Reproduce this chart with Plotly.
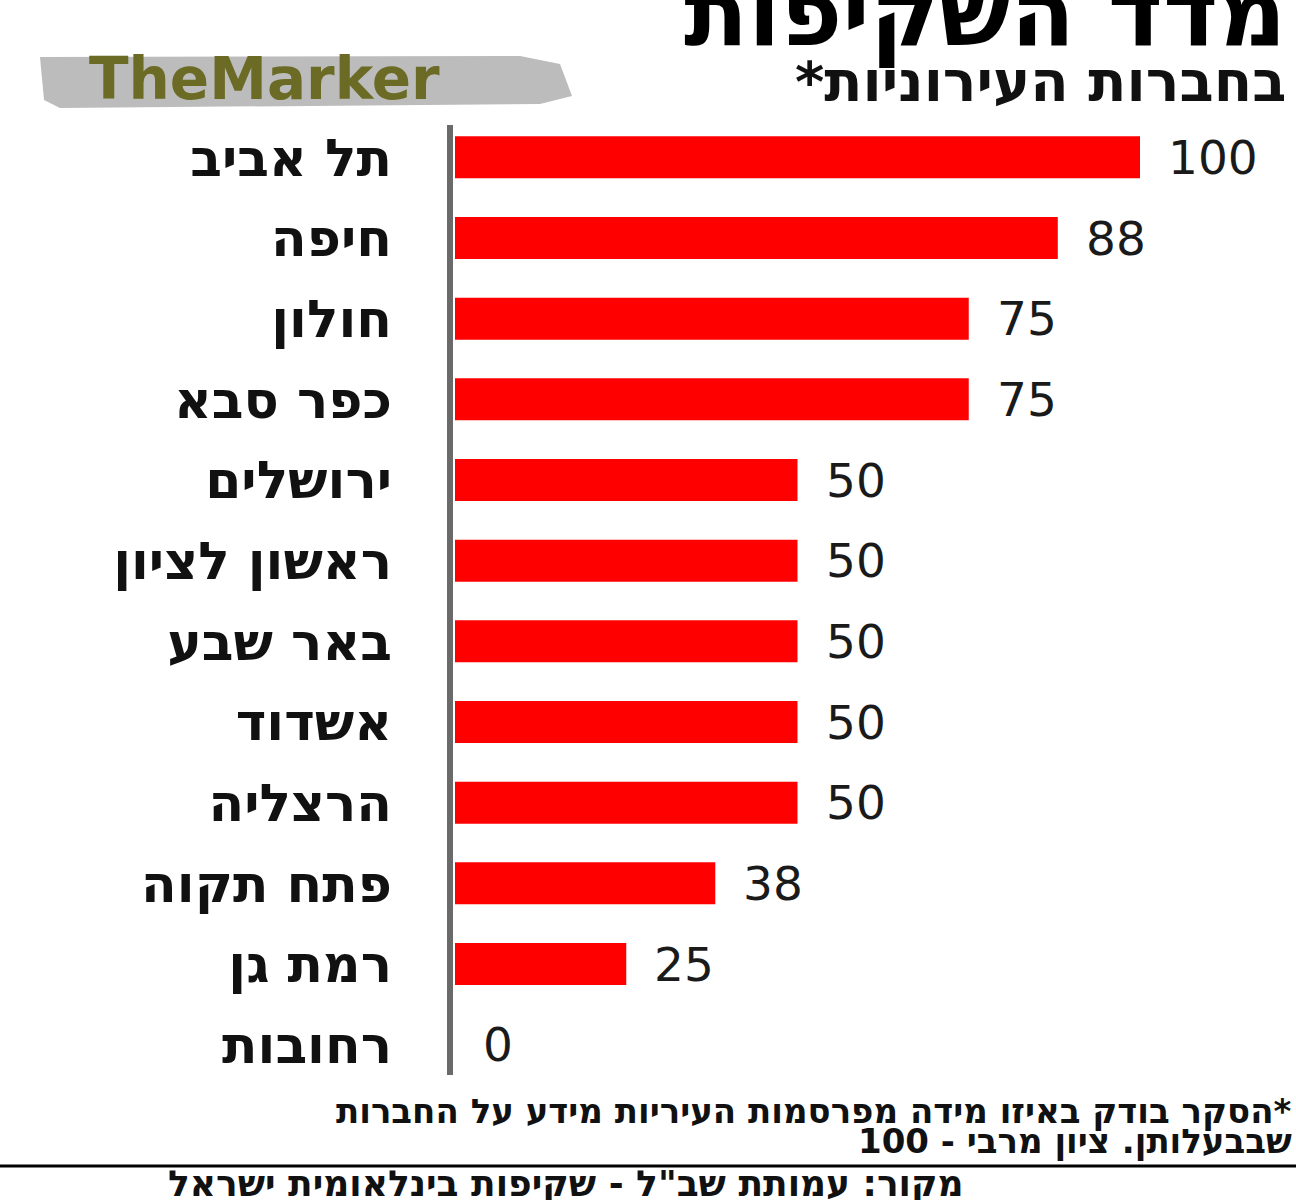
import plotly.graph_objects as go

cities = ["תל אביב", "חיפה", "חולון", "כפר סבא", "ירושלים", "ראשון לציון",
          "באר שבע", "אשדוד", "הרצליה", "פתח תקוה", "רמת גן", "רחובות"]
scores = [100, 88, 75, 75, 50, 50, 50, 50, 50, 38, 25, 0]

title_text = "מדד השקיפות"
subtitle_text = "*בחברות העירוניות"
logo_text = "TheMarker"
note_line1 = "הסקר בודק באיזו מידה מפרסמות העיריות מידע על החברות*"
note_line2 = "שבבעלותן. ציון מרבי - 100"
source_text = "מקור: עמותת שב\"ל - שקיפות בינלאומית ישראל"

W, H = 1296, 1200
ML, MR, MT, MB = 455, 0, 117, 115
PW, PH = W - ML - MR, H - MT - MB


def px(x):
    return (x - ML) / PW


def py(y):
    return (H - MB - y) / PH


HEB = "DejaVu Sans"

fig = go.Figure()
fig.add_trace(go.Bar(
    x=scores, y=cities, orientation="h",
    marker=dict(color="#ff0000", line=dict(width=0)),
    hoverinfo="x+y",
))

annotations = []
for c, v in zip(cities, scores):
    annotations.append(dict(
        x=v, y=c, xref="x", yref="y", text=str(v), showarrow=False,
        xanchor="left", yanchor="middle", xshift=26,
        font=dict(family=HEB, size=47, color="#1a1a1a"),
    ))

# title / subtitle
annotations.append(dict(
    x=px(1288), y=py(13), xref="paper", yref="paper", text=title_text,
    showarrow=False, xanchor="right", yanchor="middle",
    font=dict(family=HEB, size=94, color="#000000", weight=900),
))
annotations.append(dict(
    x=px(1288), y=py(81), xref="paper", yref="paper", text=subtitle_text,
    showarrow=False, xanchor="right", yanchor="middle",
    font=dict(family=HEB, size=56, color="#111111", weight=700),
))
# logo text
annotations.append(dict(
    x=px(264), y=py(79), xref="paper", yref="paper", text=logo_text,
    showarrow=False, xanchor="center", yanchor="middle",
    font=dict(family="DejaVu Sans", size=58, color="#6b6b26", weight=700),
))
# footnotes
annotations.append(dict(
    x=px(1294), y=py(1111), xref="paper", yref="paper", text=note_line1,
    showarrow=False, xanchor="right", yanchor="middle",
    font=dict(family=HEB, size=34, color="#111111", weight=700),
))
annotations.append(dict(
    x=px(1294), y=py(1141), xref="paper", yref="paper", text=note_line2,
    showarrow=False, xanchor="right", yanchor="middle",
    font=dict(family=HEB, size=34, color="#111111", weight=700),
))
annotations.append(dict(
    x=px(966), y=py(1184), xref="paper", yref="paper", text=source_text,
    showarrow=False, xanchor="right", yanchor="middle",
    font=dict(family=HEB, size=36, color="#111111", weight=700),
))

shapes = [
    # vertical axis line
    dict(type="line", xref="paper", yref="paper",
         x0=px(450), x1=px(450), y0=py(1075), y1=py(125),
         line=dict(color="#6a6a6a", width=6)),
    # separator line above source
    dict(type="line", xref="paper", yref="paper",
         x0=px(0), x1=px(1296), y0=py(1166), y1=py(1166),
         line=dict(color="#000000", width=3)),
    # logo background
    dict(type="path", xref="paper", yref="paper", layer="below",
         path=("M {},{} L {},{} L {},{} L {},{} L {},{} L {},{} L {},{} Z").format(
             px(40), py(57), px(520), py(56), px(560), py(64),
             px(572), py(96), px(540), py(104), px(60), py(108), px(44), py(100)),
         fillcolor="#bcbcbc", line=dict(width=0)),
]

fig.update_layout(
    width=W, height=H,
    margin=dict(l=ML, r=MR, t=MT, b=MB, pad=0),
    paper_bgcolor="#ffffff", plot_bgcolor="#ffffff",
    showlegend=False,
    bargap=0.48,
    xaxis=dict(range=[0, PW / 6.85], showgrid=False, zeroline=False,
               showticklabels=False, showline=False, ticks=""),
    yaxis=dict(autorange="reversed", showgrid=False, zeroline=False,
               showline=False, ticks="", ticklabelstandoff=62,
               tickfont=dict(family=HEB, size=52, color="#111111", weight=700)),
    annotations=annotations,
    shapes=shapes,
)

fig.write_html("out.html", config={"displayModeBar": False},
               post_script="document.body.style.margin='0';document.body.style.overflow='hidden';")
